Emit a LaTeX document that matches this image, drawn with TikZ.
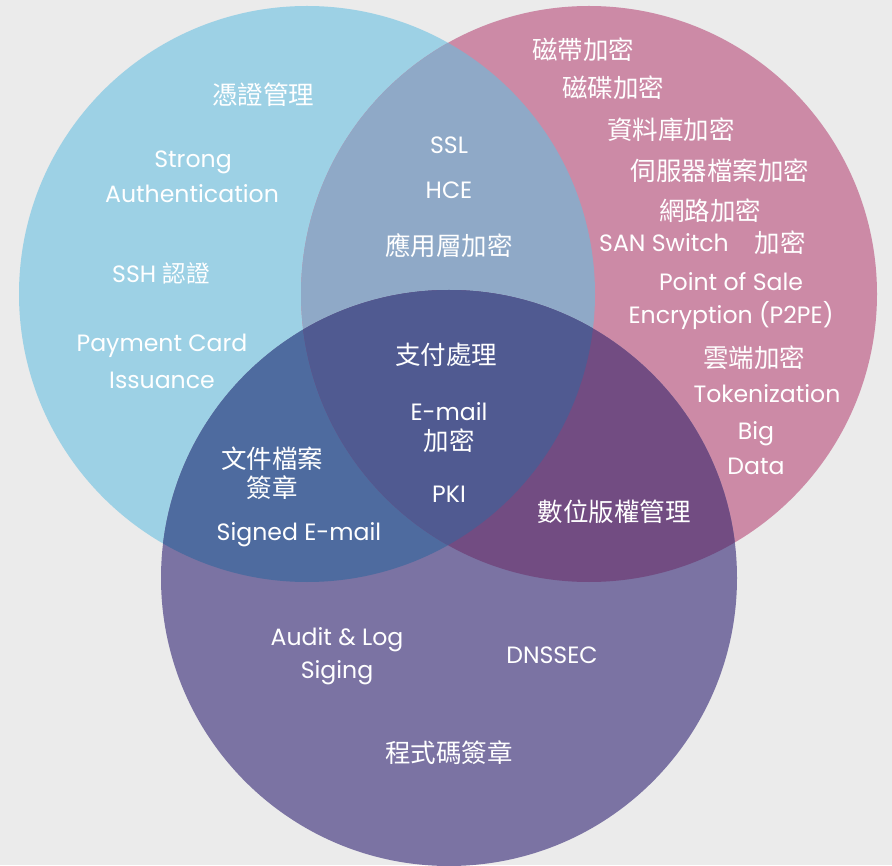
\documentclass[tikz,border=0pt]{standalone}
\usepackage{fontspec}
\setmainfont{Poppins}
\newfontfamily\cjk{Noto Sans CJK TC}
\definecolor{bgc}{HTML}{EBEBEB}
\definecolor{cL}{HTML}{9DD1E5}
\definecolor{cR}{HTML}{CC8AA6}
\definecolor{cB}{HTML}{7B73A3}
\definecolor{cLR}{HTML}{8FA9C7}
\definecolor{cLB}{HTML}{4E6B9F}
\definecolor{cRB}{HTML}{724C82}
\definecolor{cLRB}{HTML}{505A91}
\begin{document}
\begin{tikzpicture}[x=1pt,y=-1pt,
  en/.style={text=white,inner sep=0pt,font=\fontsize{23.6}{27}\selectfont},
  zh/.style={text=white,inner sep=0pt,font=\cjk\fontsize{25.5}{29}\selectfont}]
\fill[bgc] (0,0) rectangle (892,865);
\def\CL{(307,294) circle[radius=288]}
\def\CR{(589,294) circle[radius=288]}
\def\CB{(449,578) circle[radius=288]}
\fill[cL] \CL;
\fill[cR] \CR;
\fill[cB] \CB;
\begin{scope}\clip \CL; \fill[cLR] \CR; \end{scope}
\begin{scope}\clip \CL; \fill[cLB] \CB; \end{scope}
\begin{scope}\clip \CR; \fill[cRB] \CB; \end{scope}
\begin{scope}\clip \CL; \clip \CR; \fill[cLRB] \CB; \end{scope}
% left
\node[zh] (a1) at (263,95) {憑證管理};
\node[en] (a2) at (193,162) {Strong};
\node[en] (a3) at (192,194) {Authentication};
\node[en] (a4) at (161,273) {SSH {\cjk 認證}};
\node[en] (a5) at (162,346) {Payment Card};
\node[en] (a6) at (162,380) {Issuance};
% left-right
\node[en] (b1) at (449,145) {SSL};
\node[en] (b2) at (449,190) {HCE};
\node[zh] (b3) at (449,246) {應用層加密};
% right
\node[zh] (c1) at (583,50) {磁帶加密};
\node[zh] (c2) at (613,88) {磁碟加密};
\node[zh] (c3) at (671,130) {資料庫加密};
\node[zh] (c4) at (720,171) {伺服器檔案加密};
\node[zh] (c5) at (710,211) {網路加密};
\node[en] (c6) at (664,243) {SAN Switch};
\node[zh] (c7) at (780,243) {加密};
\node[en] (c8) at (731,282) {Point of Sale};
\node[en] (c9) at (731,316) {Encryption (P2PE)};
\node[zh] (c10) at (754,358) {雲端加密};
\node[en] (c11) at (767,394) {Tokenization};
\node[en] (c12) at (756,434) {Big};
\node[en] (c13) at (756,466) {Data};
% center
\node[zh] (d1) at (446,355) {支付處理};
\node[en] (d2) at (449,412) {E-mail};
\node[zh] (d3) at (449,441) {加密};
\node[en] (d4) at (449,494) {PKI};
% left-bottom
\node[zh] (e1) at (272,459) {文件檔案};
\node[zh] (e2) at (272,488) {簽章};
\node[en] (e3) at (299,535) {Signed E-mail};
% right-bottom
\node[zh] (f1) at (614,512) {數位版權管理};
% bottom
\node[en] (g1) at (337,640) {Audit \& Log};
\node[en] (g2) at (337,673) {Siging};
\node[en] (g3) at (552,655) {DNSSEC};
\node[zh] (g4) at (449,753) {程式碼簽章};
\end{tikzpicture}
\end{document}
